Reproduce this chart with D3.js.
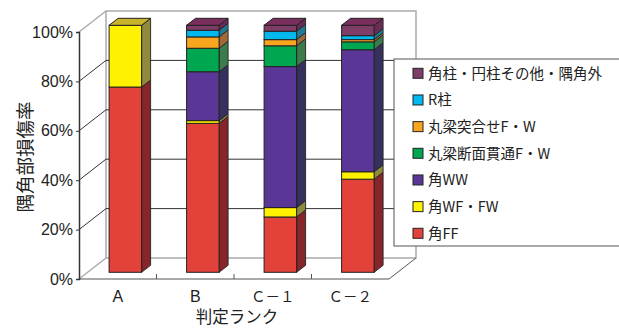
<!DOCTYPE html>
<html><head><meta charset="utf-8">
<script src="https://cdn.jsdelivr.net/npm/d3@7"></script>
<style>
html,body{margin:0;padding:0;background:#fff;}
svg{display:block;}
</style></head>
<body>
<svg id="chart" width="619" height="329"></svg>
<script>
// ---- data ----
const categories = ["A", "B", "Ｃ－１", "Ｃ－２"];
const seriesNames = ["角FF", "角WF・FW", "角WW", "丸梁断面貫通F・W", "丸梁突合せF・W", "R柱", "角柱・円柱その他・隅角外"];
const kakuFF      = [75.0, 60.3, 22.4, 37.7];
const kakuWFFW    = [25.0, 1.1, 3.8, 3.0];
const kakuWW      = [0.0, 19.8, 57.1, 49.4];
const danmenKantsu= [0.0, 9.5, 8.4, 3.2];
const tsukiawase  = [0.0, 4.6, 2.5, 0.9];
const rBashira    = [0.0, 2.7, 3.4, 1.6];
const sonota      = [0.0, 2.0, 2.4, 4.2];
const yTicks = [0, 20, 40, 60, 80, 100];
const yTitle = "隅角部損傷率";
const xTitle = "判定ランク";

const seriesValues = [kakuFF, kakuWFFW, kakuWW, danmenKantsu, tsukiawase, rBashira, sonota];
const frontColors = ["#E3423A", "#FFF200", "#5A3696", "#00A650", "#F9A51E", "#00B8EE", "#7D3D67"];
const sideColors  = ["#86252A", "#8F8A3C", "#35305E", "#3D7A4C", "#A06A38", "#1E7B93", "#6A2C55"];
const topColors   = ["#B5322E", "#C9B32A", "#4A2F80", "#2F8A4E", "#C9862A", "#1A9CC0", "#7A2E5E"];

const svg = d3.select("#chart");
const FONT = "'Liberation Sans', Arial, sans-serif";
const JFONT = "'Noto Sans CJK JP', sans-serif";

// ---- geometry ----
const x = d3.scaleBand().domain(categories).range([79, 389]).padding(0);
const y = d3.scaleLinear().domain([0, 100]).range([279, 32]);
const box = {dx: 27, dy: -21};
const barOff = {dx: 7.6, dy: -6.7};
const barDepth = {dx: 9, dy: -7};
const barW = 32.5;

const g = svg.append("g");

// back wall
const bx0 = x.range()[0] + box.dx, bx1 = x.range()[1] + box.dx;
g.append("rect").attr("x", bx0).attr("y", y(100) + box.dy)
  .attr("width", bx1 - bx0).attr("height", y(0) - y(100))
  .attr("fill", "#fff").attr("stroke", "#aaa").attr("stroke-width", 1.5);
// back wall grid lines
g.selectAll("line.grid").data(yTicks.filter(t => t > 0 && t < 100)).enter()
  .append("line").attr("class", "grid")
  .attr("x1", bx0).attr("x2", bx1)
  .attr("y1", d => y(d) + box.dy).attr("y2", d => y(d) + box.dy)
  .attr("stroke", "#333").attr("stroke-width", 1);
// left side wall diagonals
g.selectAll("line.diag").data(yTicks).enter()
  .append("line").attr("class", "diag")
  .attr("x1", x.range()[0]).attr("x2", bx0)
  .attr("y1", d => y(d)).attr("y2", d => y(d) + box.dy)
  .attr("stroke", d => (d === 0 || d === 100) ? "#aaa" : "#333")
  .attr("stroke-width", d => (d === 0 || d === 100) ? 1.5 : 1);
// floor
g.append("line").attr("x1", x.range()[0]).attr("x2", x.range()[1])
  .attr("y1", y(0)).attr("y2", y(0)).attr("stroke", "#555").attr("stroke-width", 1.2);
g.append("line").attr("x1", x.range()[1]).attr("x2", bx1)
  .attr("y1", y(0)).attr("y2", y(0) + box.dy).attr("stroke", "#555").attr("stroke-width", 1);
// floor ticks between categories
g.selectAll("line.ftick").data(categories.slice(1)).enter()
  .append("line").attr("class", "ftick")
  .attr("x1", d => x(d)).attr("x2", d => x(d))
  .attr("y1", y(0)).attr("y2", y(0) - 5)
  .attr("stroke", "#555").attr("stroke-width", 1);

// front y axis
const yAxis = d3.axisLeft(y).tickValues(yTicks).tickFormat(d => d + "%").tickSize(3).tickPadding(3);
const ax = svg.append("g").attr("transform", `translate(${x.range()[0]},0)`).call(yAxis);
ax.select(".domain").attr("stroke", "#333").attr("stroke-width", 1.5);
ax.selectAll(".tick line").attr("stroke", "#333");
ax.selectAll(".tick text").attr("font-family", FONT).attr("font-size", 16).attr("fill", "#222");

// ---- bars ----
const stacks = categories.map((c, i) => {
  let acc = 0;
  const segs = [];
  seriesValues.forEach((arr, s) => {
    const v = arr[i];
    if (v > 0) segs.push({s, y0: acc, y1: acc + v});
    acc += v;
  });
  return {c, segs};
});

const bars = svg.append("g");
stacks.forEach(st => {
  const cx = x(st.c) + x.bandwidth() / 2 + barOff.dx;
  const fx0 = cx - barW / 2, fx1 = cx + barW / 2;
  const bg = bars.append("g");
  st.segs.forEach((seg, k) => {
    const yb = y(seg.y0) + barOff.dy, yt = y(seg.y1) + barOff.dy;
    bg.append("path")
      .attr("d", `M${fx1},${yb}L${fx1 + barDepth.dx},${yb + barDepth.dy}L${fx1 + barDepth.dx},${yt + barDepth.dy}L${fx1},${yt}Z`)
      .attr("fill", sideColors[seg.s]).attr("stroke", "#222").attr("stroke-width", 0.9).attr("stroke-linejoin", "round");
    bg.append("rect").attr("x", fx0).attr("y", yt).attr("width", barW).attr("height", yb - yt)
      .attr("fill", frontColors[seg.s]).attr("stroke", "#222").attr("stroke-width", 1);
    if (k === st.segs.length - 1) {
      bg.append("path")
        .attr("d", `M${fx0},${yt}L${fx0 + barDepth.dx},${yt + barDepth.dy}L${fx1 + barDepth.dx},${yt + barDepth.dy}L${fx1},${yt}Z`)
        .attr("fill", topColors[seg.s]).attr("stroke", "#222").attr("stroke-width", 1).attr("stroke-linejoin", "round");
    }
  });
});

// category labels
svg.selectAll("text.cat").data(categories).enter().append("text")
  .attr("class", "cat")
  .attr("x", d => x(d) + x.bandwidth() / 2)
  .attr("y", 302)
  .attr("text-anchor", "middle")
  .attr("font-family", d => d.length > 1 ? JFONT : FONT)
  .attr("font-size", d => d.length > 1 ? 14.5 : 16)
  .attr("fill", "#222")
  .text(d => d);

// axis titles
svg.append("text").attr("x", 237).attr("y", 323).attr("text-anchor", "middle")
  .attr("font-family", JFONT).attr("font-size", 16.5).attr("fill", "#222").text(xTitle);
svg.append("text").attr("transform", "translate(32,157) rotate(-90)").attr("text-anchor", "middle")
  .attr("font-family", JFONT).attr("font-size", 18.5).attr("fill", "#222").text(yTitle);

// ---- legend ----
const lg = svg.append("g");
lg.append("rect").attr("x", 394).attr("y", 59).attr("width", 240).attr("height", 187)
  .attr("fill", "#fff").attr("stroke", "#555").attr("stroke-width", 1);
const legendOrder = d3.range(seriesNames.length).reverse();
const ly = d3.scalePoint().domain(legendOrder).range([73.3, 233.3]);
const items = lg.selectAll("g.item").data(legendOrder).enter().append("g").attr("class", "item");
items.append("rect").attr("x", 413).attr("y", d => ly(d) - 5).attr("width", 10).attr("height", 10)
  .attr("fill", d => frontColors[d]).attr("stroke", "#222").attr("stroke-width", 1);
items.append("text").attr("x", 428).attr("y", d => ly(d)).attr("dy", "0.36em")
  .attr("font-family", JFONT).attr("font-size", 14.5).attr("fill", "#222")
  .text(d => seriesNames[d]);
</script>
</body></html>
